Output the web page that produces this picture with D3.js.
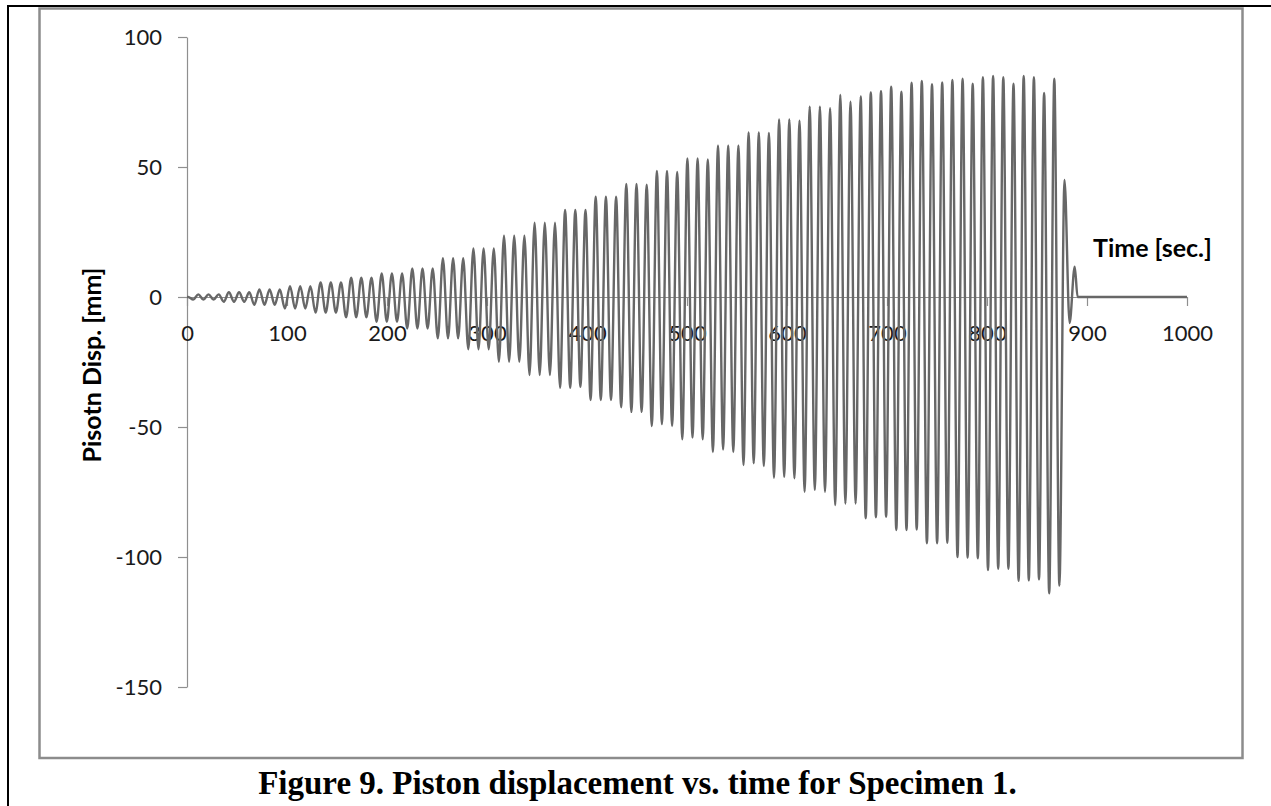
<!DOCTYPE html>
<html>
<head>
<meta charset="utf-8">
<script src="https://cdn.jsdelivr.net/npm/d3@7/dist/d3.min.js"></script>
<style>
  body { margin: 0; background: #ffffff; }
  svg { display: block; }
</style>
</head>
<body>
<svg id="chart" width="1271" height="806"></svg>
<script>
// Turning points of the cyclic piston stroke: each cycle goes down to a trough, then up to a crest.
const troughTimes = [
  6.2, 16.4, 26.6, 36.8, 47.0, 57.2, 67.3, 77.5, 87.7, 97.9,
  108.1, 118.3, 128.5, 138.7, 148.9, 159.1, 169.2, 179.4, 189.6, 199.8,
  210.0, 220.2, 230.4, 240.6, 250.8, 261.0, 271.1, 281.3, 291.5, 301.7,
  311.9, 322.1, 332.3, 342.5, 352.7, 362.9, 373.0, 383.2, 393.4, 403.6,
  413.8, 424.0, 434.2, 444.4, 454.6, 464.8, 474.9, 485.1, 495.3, 505.5,
  515.7, 525.9, 536.1, 546.3, 556.5, 566.7, 576.8, 587.0, 597.2, 607.4,
  617.6, 627.8, 638.0, 648.2, 658.4, 668.6, 678.7, 688.9, 699.1, 709.3,
  719.5, 729.7, 739.9, 750.1, 760.3, 770.5, 780.6, 790.8, 801.0, 811.2,
  821.4, 831.6, 841.8, 852.0, 862.2, 872.4, 882.6
];
const troughValues = [
  -1.0, -1.0, -1.0, -1.8, -1.8, -1.8, -3.0, -3.0, -3.0, -4.4,
  -4.4, -4.4, -6.0, -6.0, -6.0, -7.8, -7.8, -7.8, -9.5, -9.5,
  -9.5, -12.1, -12.1, -12.1, -15.9, -15.9, -15.9, -20.1, -20.1, -20.1,
  -24.9, -24.9, -24.9, -30.0, -30.0, -30.0, -34.9, -34.9, -34.5, -39.6,
  -39.6, -39.6, -42.4, -44.2, -44.2, -49.6, -48.9, -49.6, -54.7, -54.1,
  -54.7, -59.6, -58.7, -59.6, -64.6, -63.9, -65.0, -69.5, -69.2, -69.7,
  -74.9, -74.2, -74.9, -80.0, -79.4, -79.4, -85.1, -84.7, -84.5, -89.6,
  -89.6, -89.4, -94.7, -94.7, -94.5, -100.0, -100.2, -100.5, -105.0, -104.5,
  -104.5, -109.2, -109.0, -108.6, -114.0, -111.0, -10.0
];
const crestTimes = [
  11.3, 21.5, 31.7, 41.9, 52.1, 62.3, 72.4, 82.6, 92.8, 103.0,
  113.2, 123.4, 133.6, 143.8, 154.0, 164.2, 174.3, 184.5, 194.7, 204.9,
  215.1, 225.3, 235.5, 245.7, 255.9, 266.1, 276.2, 286.4, 296.6, 306.8,
  317.0, 327.2, 337.4, 347.6, 357.8, 368.0, 378.1, 388.3, 398.5, 408.7,
  418.9, 429.1, 439.3, 449.5, 459.7, 469.9, 480.0, 490.2, 500.4, 510.6,
  520.8, 531.0, 541.2, 551.4, 561.6, 571.8, 581.9, 592.1, 602.3, 612.5,
  622.7, 632.9, 643.1, 653.3, 663.5, 673.7, 683.8, 694.0, 704.2, 714.4,
  724.6, 734.8, 745.0, 755.2, 765.4, 775.6, 785.7, 795.9, 806.1, 816.3,
  826.5, 836.7, 846.9, 857.1, 867.3, 877.5, 887.7
];
const crestValues = [
  1.0, 1.0, 1.0, 1.8, 1.8, 1.8, 2.9, 2.9, 2.9, 4.2,
  4.2, 4.2, 5.6, 5.6, 5.6, 7.4, 7.4, 7.4, 9.1, 9.1,
  9.1, 11.0, 11.0, 11.0, 14.9, 14.9, 14.9, 18.7, 18.7, 18.7,
  23.6, 23.6, 23.6, 28.6, 28.6, 28.6, 33.5, 33.5, 33.5, 38.6,
  38.6, 38.6, 43.5, 43.5, 43.2, 48.5, 48.5, 48.1, 53.3, 53.3,
  52.9, 58.3, 58.3, 58.3, 63.3, 63.3, 63.1, 68.3, 68.3, 67.8,
  73.2, 73.2, 72.6, 77.7, 75.1, 77.1, 78.7, 79.2, 80.9, 79.0,
  82.4, 83.1, 81.8, 82.5, 83.5, 84.0, 82.0, 84.5, 85.0, 84.5,
  82.0, 85.0, 84.5, 78.5, 84.0, 45.0, 11.7
];
// Piston at rest before the first stroke and after the last one.
const restBefore = [[0, 0], [1.2, 0]];
const restAfter = [[890.6, 0], [1000, 0]];

const xTicks = [0, 100, 200, 300, 400, 500, 600, 700, 800, 900, 1000];
const yTicks = [100, 50, 0, -50, -100, -150];

const xTitle = "Time [sec.]";
const yTitle = "Pisotn Disp. [mm]";
const caption = "Figure 9. Piston displacement vs. time for Specimen 1.";

// Assemble the stroke record in time order.
const record = restBefore.map(([t, v]) => ({ t, v }));
troughTimes.forEach((t, i) => {
  record.push({ t, v: troughValues[i] });
  record.push({ t: crestTimes[i], v: crestValues[i] });
});
restAfter.forEach(([t, v]) => record.push({ t, v }));

const svg = d3.select("#chart");

// Page frame lines and chart box
svg.append("line").attr("x1", 8).attr("x2", 8).attr("y1", 5).attr("y2", 806)
  .attr("stroke", "#000").attr("stroke-width", 2);
svg.append("line").attr("x1", 7).attr("x2", 1271).attr("y1", 6).attr("y2", 6)
  .attr("stroke", "#000").attr("stroke-width", 2);
svg.append("rect").attr("x", 39.5).attr("y", 8.5).attr("width", 1203).attr("height", 749.5)
  .attr("fill", "#fff").attr("stroke", "#8c8c8c").attr("stroke-width", 2.5);

const x = d3.scaleLinear().domain([0, 1000]).range([187, 1187]);
const y = d3.scaleLinear().domain([-150, 100]).range([687, 37]);

const tickFont = "Lato, 'Open Sans', sans-serif";
const plainNumber = d => String(d);

// Vertical axis
const yAxis = svg.append("g").attr("transform", `translate(${x(0)},0)`)
  .call(d3.axisLeft(y).tickValues(yTicks).tickFormat(plainNumber)
    .tickSize(9).tickSizeOuter(0).tickPadding(16));
// Horizontal axis through zero
const xAxis = svg.append("g").attr("transform", `translate(0,${y(0)})`)
  .call(d3.axisBottom(x).tickValues(xTicks).tickFormat(plainNumber)
    .tickSize(9).tickSizeOuter(0).tickPadding(19));

[yAxis, xAxis].forEach(g => {
  g.select(".domain").attr("stroke", "#8f8f8f").attr("stroke-width", 1.2);
  g.selectAll(".tick line").attr("stroke", "#8f8f8f").attr("stroke-width", 1.2);
  g.selectAll(".tick text").attr("fill", "#1a1a1a")
    .style("font-family", tickFont).style("font-size", "22px");
});

// Displacement trace
const line = d3.line().x(d => x(d.t)).y(d => y(d.v)).curve(d3.curveMonotoneX);
svg.append("path").datum(record)
  .attr("d", line)
  .attr("fill", "none")
  .attr("stroke", "#676767")
  .attr("stroke-width", 2.4)
  .attr("stroke-linejoin", "round");

// Axis titles
svg.append("text").attr("x", 1093).attr("y", 257)
  .style("font-family", tickFont).style("font-weight", 700).style("font-size", "25px")
  .attr("fill", "#000").text(xTitle);
svg.append("text").attr("transform", "translate(101,365) rotate(-90)")
  .attr("text-anchor", "middle")
  .style("font-family", tickFont).style("font-weight", 700).style("font-size", "25px")
  .attr("fill", "#000").text(yTitle);

// Figure caption
svg.append("text").attr("x", 637.5).attr("y", 794).attr("text-anchor", "middle")
  .style("font-family", "'Liberation Serif', 'Times New Roman', serif")
  .style("font-weight", 700).style("font-size", "33px")
  .attr("fill", "#000").text(caption);
</script>
</body>
</html>
